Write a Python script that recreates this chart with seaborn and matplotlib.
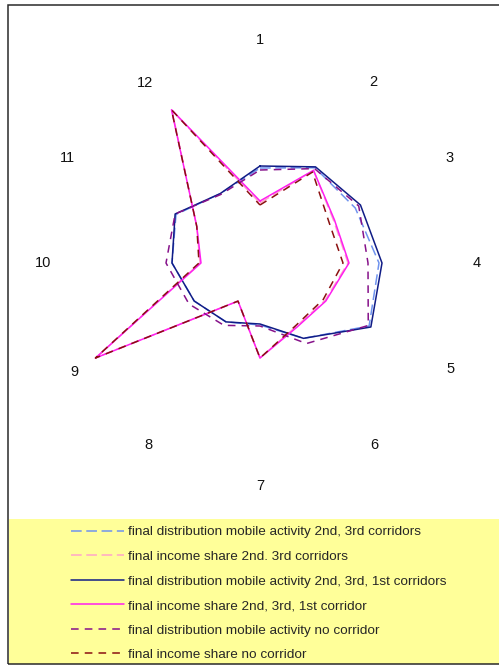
import numpy as np
import pandas as pd
import matplotlib
matplotlib.use("Agg")
import matplotlib.pyplot as plt
from matplotlib.patches import Rectangle
import seaborn as sns

# Twelve radial axes, numbered clockwise from the top
spokes = ["1", "2", "3", "4", "5", "6", "7", "8", "9", "10", "11", "12"]

series_names = [
    "final distribution mobile activity 2nd, 3rd corridors",
    "final income share 2nd. 3rd corridors",
    "final distribution mobile activity 2nd, 3rd, 1st corridors",
    "final income share 2nd, 3rd, 1st corridor",
    "final distribution mobile activity no corridor",
    "final income share no corridor",
]

mobile_23 = [0.095, 0.110, 0.110, 0.119, 0.126, 0.087, 0.062, 0.068, 0.076, 0.088, 0.097, 0.080]
income_23 = [0.060, 0.107, 0.085, 0.088, 0.075, 0.073, 0.095, 0.044, 0.189, 0.060, 0.073, 0.176]
mobile_231 = [0.097, 0.111, 0.116, 0.122, 0.128, 0.087, 0.061, 0.068, 0.076, 0.088, 0.098, 0.080]
income_231 = [0.062, 0.107, 0.086, 0.089, 0.076, 0.074, 0.095, 0.044, 0.190, 0.059, 0.073, 0.177]
mobile_none = [0.093, 0.109, 0.114, 0.108, 0.125, 0.093, 0.063, 0.072, 0.082, 0.094, 0.098, 0.079]
income_none = [0.058, 0.105, 0.080, 0.083, 0.073, 0.072, 0.095, 0.044, 0.190, 0.061, 0.073, 0.177]

all_values = [mobile_23, income_23, mobile_231, income_231, mobile_none, income_none]

colors = ["#6F93EE", "#FFA6C9", "#101C86", "#FF1EF0", "#86128A", "#8A1010"]
dash_styles = [(7, 3), (7, 3), "", "", (5, 4), (5, 4)]

# spoke label placement: distance from the centre (axis units) and a small
# angular nudge (degrees, clockwise) so the labels sit like category labels
label_radius = [0.223, 0.214, 0.217, 0.217, 0.218, 0.215, 0.223, 0.213, 0.215, 0.217, 0.219, 0.214]
label_nudge = [0, 2, 1, 0, -1, -2, 0, 1.5, -0.5, 0, -1.3, -2.5]

sns.set_theme(style="white")
plt.rcParams["font.family"] = ["Liberation Sans", "DejaVu Sans"]

# Long-form table; each polygon is closed by repeating its first spoke at 2*pi
n = len(spokes)
theta = np.linspace(0, 2 * np.pi, n, endpoint=False)
rows = []
for name, vals in zip(series_names, all_values):
    for t, v in zip(list(theta) + [2 * np.pi], list(vals) + [vals[0]]):
        rows.append({"theta": t, "value": v, "series": name})
df = pd.DataFrame(rows)

W, H = 499, 667
fig = plt.figure(figsize=(W / 100, H / 100), dpi=100)

# yellow legend band and outer frame
fig.patches.append(Rectangle((9 / W, 3 / H), 1.0, (664 - 519) / H,
                             transform=fig.transFigure, facecolor="#FFFF99",
                             edgecolor="none", zorder=0))
fig.patches.append(Rectangle((8 / W, 3 / H), 1.2, (664 - 5) / H,
                             transform=fig.transFigure, fill=False,
                             edgecolor="#2a2a2a", linewidth=1.1, zorder=1))

cx, cy, R = 260, 263, 200
ax = fig.add_axes([(cx - R) / W, (H - cy - R) / H, 2 * R / W, 2 * R / H], projection="polar")
ax.set_theta_zero_location("N")
ax.set_theta_direction(-1)
ax.patch.set_alpha(0)

sns.lineplot(data=df, x="theta", y="value", hue="series", style="series",
             hue_order=series_names, style_order=series_names,
             palette=dict(zip(series_names, colors)),
             dashes=dict(zip(series_names, dash_styles)),
             sort=False, estimator=None, linewidth=1.1, ax=ax)

ax.set_ylim(0, 0.2)
ax.set_xticks([])
ax.set_yticks([])
ax.grid(False)
ax.spines["polar"].set_visible(False)
ax.set_xlabel("")
ax.set_ylabel("")

for t, lab, rl, dn in zip(theta, spokes, label_radius, label_nudge):
    ax.text(t + np.deg2rad(dn), rl, lab, ha="center", va="center", fontsize=10.5,
            color="#111111", clip_on=False)

handles, labels = ax.get_legend_handles_labels()
ax.get_legend().remove()
fig.legend(handles, labels, loc="upper left",
           bbox_to_anchor=(71 / W, (H - 526) / H), frameon=False,
           fontsize=9.7, handlelength=3.95, handletextpad=0.3,
           labelspacing=0.9, borderpad=0, borderaxespad=0)

fig.savefig("out.png", dpi=100)
